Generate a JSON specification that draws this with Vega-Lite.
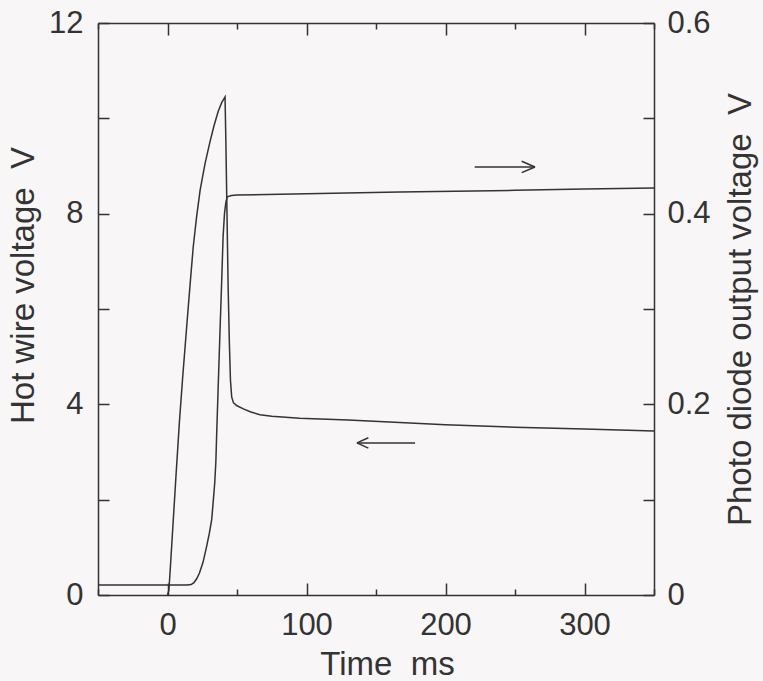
{
  "$schema": "https://vega.github.io/schema/vega-lite/v6.json",
  "width": 556,
  "height": 572,
  "autosize": "none",
  "padding": {"left": 98, "top": 23, "right": 109, "bottom": 86},
  "background": "#f8f6f6",
  "config": {
    "view": {"stroke": null},
    "axis": {
      "labelFont": "Liberation Sans", "titleFont": "Liberation Sans",
      "labelFontSize": 31, "titleFontSize": 33, "titleFontWeight": "normal",
      "labelColor": "#333333", "titleColor": "#333333",
      "domainColor": "#333333", "tickColor": "#333333",
      "domainWidth": 1.5, "tickWidth": 1.5, "grid": false
    }
  },
  "resolve": {"scale": {"y": "independent"}, "axis": {"x": "independent"}},
  "layer": [
    {
      "data": {"values": [
        {"series": "hw", "t": 0, "v": 0},
        {"series": "hw", "t": 1, "v": 0.1},
        {"series": "hw", "t": 2, "v": 0.55},
        {"series": "hw", "t": 4, "v": 1.5},
        {"series": "hw", "t": 6, "v": 2.45},
        {"series": "hw", "t": 8.5, "v": 3.6},
        {"series": "hw", "t": 11, "v": 4.6},
        {"series": "hw", "t": 14, "v": 5.7},
        {"series": "hw", "t": 16.5, "v": 6.6},
        {"series": "hw", "t": 18.5, "v": 7.3},
        {"series": "hw", "t": 21, "v": 7.95},
        {"series": "hw", "t": 23.5, "v": 8.5},
        {"series": "hw", "t": 27, "v": 9.05},
        {"series": "hw", "t": 30.5, "v": 9.5},
        {"series": "hw", "t": 33.5, "v": 9.85},
        {"series": "hw", "t": 36.5, "v": 10.15},
        {"series": "hw", "t": 39, "v": 10.33},
        {"series": "hw", "t": 41.4, "v": 10.45},
        {"series": "hw", "t": 42, "v": 9.5},
        {"series": "hw", "t": 42.8, "v": 8.0},
        {"series": "hw", "t": 43.6, "v": 6.5},
        {"series": "hw", "t": 44.5, "v": 5.3},
        {"series": "hw", "t": 45.3, "v": 4.5},
        {"series": "hw", "t": 46.2, "v": 4.15},
        {"series": "hw", "t": 47.5, "v": 4.03},
        {"series": "hw", "t": 50, "v": 3.97},
        {"series": "hw", "t": 55, "v": 3.9},
        {"series": "hw", "t": 60, "v": 3.84},
        {"series": "hw", "t": 66.5, "v": 3.78},
        {"series": "hw", "t": 75, "v": 3.75},
        {"series": "hw", "t": 95, "v": 3.71},
        {"series": "hw", "t": 130, "v": 3.67},
        {"series": "hw", "t": 167, "v": 3.62},
        {"series": "hw", "t": 200, "v": 3.57},
        {"series": "hw", "t": 250, "v": 3.52},
        {"series": "hw", "t": 300, "v": 3.48},
        {"series": "hw", "t": 350, "v": 3.44},
        {"series": "ra_s", "t": 221, "v": 8.98},
        {"series": "ra_s", "t": 264.4, "v": 8.98},
        {"series": "ra_h1", "t": 254.8, "v": 9.1},
        {"series": "ra_h1", "t": 264.4, "v": 8.98},
        {"series": "ra_h2", "t": 254.8, "v": 8.86},
        {"series": "ra_h2", "t": 264.4, "v": 8.98},
        {"series": "la_s", "t": 136.3, "v": 3.19},
        {"series": "la_s", "t": 178.1, "v": 3.19},
        {"series": "la_h1", "t": 136.3, "v": 3.19},
        {"series": "la_h1", "t": 144.5, "v": 3.3},
        {"series": "la_h2", "t": 136.3, "v": 3.19},
        {"series": "la_h2", "t": 144.5, "v": 3.08}
      ]},
      "mark": {"type": "line", "color": "#333333", "strokeWidth": 1.5},
      "encoding": {
        "x": {
          "field": "t", "type": "quantitative",
          "scale": {"domain": [-50, 350], "nice": false, "zero": false},
          "axis": {
            "orient": "bottom",
            "values": [-50, 0, 50, 100, 150, 200, 250, 300, 350],
            "labelExpr": "datum.value % 100 === 0 ? datum.label : ''",
            "tickSize": {"condition": {"test": "datum.value % 100 === 0", "value": -12}, "value": -6},
            "labelPadding": 27,
            "title": "Time \u00a0ms",
            "titlePadding": 8,
            "titleX": 289
          }
        },
        "y": {
          "field": "v", "type": "quantitative",
          "scale": {"domain": [0, 12], "nice": false},
          "axis": {
            "orient": "left",
            "values": [0, 2, 4, 6, 8, 10, 12],
            "labelExpr": "datum.value % 4 === 0 ? datum.label : ''",
            "tickSize": -11,
            "labelPadding": 26,
            "title": "Hot wire voltage \u00a0V",
            "titlePadding": 8,
            "titleY": 262
          }
        },
        "detail": {"field": "series"}
      }
    },
    {
      "data": {"values": [
        {"t": -50, "p": 0.0105},
        {"t": 14, "p": 0.0105},
        {"t": 17, "p": 0.011},
        {"t": 19, "p": 0.013},
        {"t": 21, "p": 0.017},
        {"t": 23, "p": 0.023},
        {"t": 25.5, "p": 0.034},
        {"t": 28, "p": 0.05},
        {"t": 30, "p": 0.064},
        {"t": 31.8, "p": 0.079},
        {"t": 33, "p": 0.1},
        {"t": 34, "p": 0.118},
        {"t": 34.8, "p": 0.14},
        {"t": 35.4, "p": 0.17},
        {"t": 36.5, "p": 0.22},
        {"t": 37.8, "p": 0.278},
        {"t": 39, "p": 0.33},
        {"t": 40, "p": 0.376},
        {"t": 41, "p": 0.4},
        {"t": 42, "p": 0.412},
        {"t": 43, "p": 0.4176},
        {"t": 46, "p": 0.419},
        {"t": 50, "p": 0.4195},
        {"t": 100, "p": 0.421},
        {"t": 167, "p": 0.4226},
        {"t": 250, "p": 0.4245},
        {"t": 300, "p": 0.4258},
        {"t": 350, "p": 0.4268}
      ]},
      "mark": {"type": "line", "color": "#333333", "strokeWidth": 1.5},
      "encoding": {
        "x": {
          "field": "t", "type": "quantitative",
          "scale": {"domain": [-50, 350], "nice": false, "zero": false},
          "axis": {
            "orient": "top",
            "values": [-50, 0, 50, 100, 150, 200, 250, 300, 350],
            "labels": false,
            "tickSize": {"condition": {"test": "datum.value % 100 === 0", "value": -12}, "value": -6},
            "title": null
          }
        },
        "y": {
          "field": "p", "type": "quantitative",
          "scale": {"domain": [0, 0.6], "nice": false, "zero": false},
          "axis": {
            "orient": "right",
            "values": [0, 0.1, 0.2, 0.3, 0.4, 0.5, 0.6],
            "labelExpr": "datum.value === 0 ? '0' : (abs((datum.value * 10) % 2) < 0.01 ? format(datum.value, '.1f') : '')",
            "tickSize": -11,
            "labelPadding": 24,
            "title": "Photo diode output voltage \u00a0V",
            "titleAngle": 270,
            "titlePadding": 47
          }
        }
      }
    }
  ]
}
